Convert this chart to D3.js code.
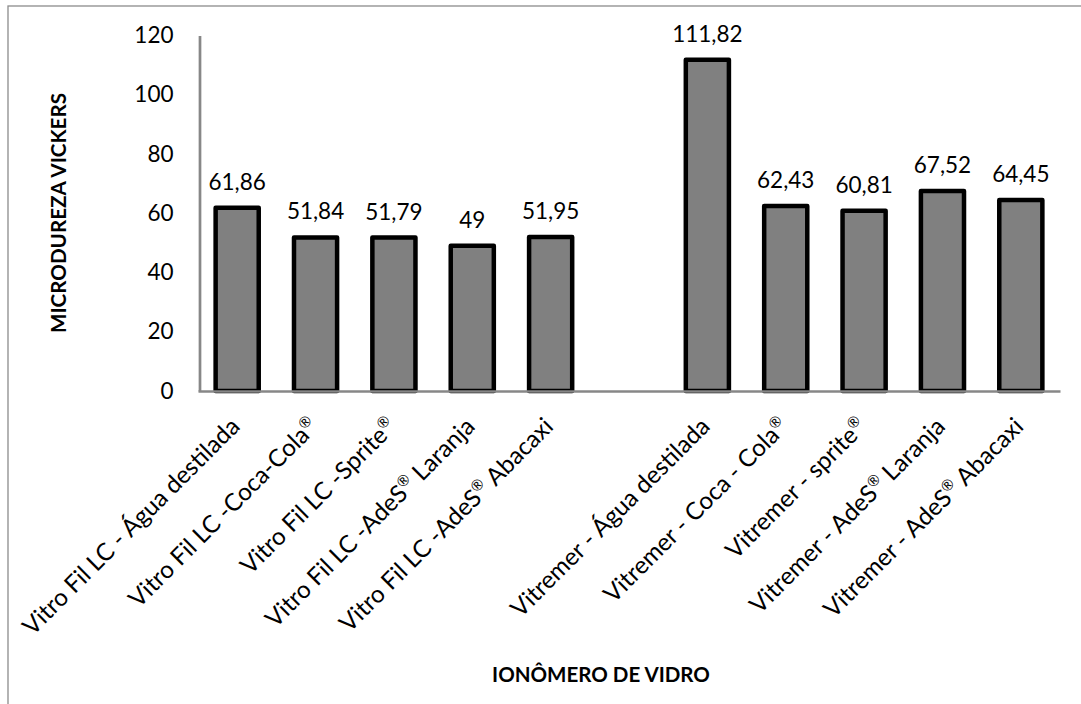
<!DOCTYPE html>
<html><head><meta charset="utf-8">
<script src="https://cdn.jsdelivr.net/npm/d3@7"></script>
<style>body{margin:0;background:#fff}svg{display:block}</style>
</head><body>
<svg id="c" width="1081" height="704"></svg>
<script>
const categories = [
  ["Vitro Fil LC - Água destilada"],
  ["Vitro Fil LC -Coca-Cola", "®"],
  ["Vitro Fil LC -Sprite", "®"],
  ["Vitro Fil LC -AdeS", "®", " Laranja"],
  ["Vitro Fil LC -AdeS", "®", " Abacaxi"],
  [""],
  ["Vitremer - Água destilada"],
  ["Vitremer - Coca - Cola", "®"],
  ["Vitremer - sprite", "®"],
  ["Vitremer - AdeS", "®", " Laranja"],
  ["Vitremer - AdeS", "®", " Abacaxi"]
];
const values = [61.86, 51.84, 51.79, 49, 51.95, null, 111.82, 62.43, 60.81, 67.52, 64.45];
const yTicks = [0, 20, 40, 60, 80, 100, 120];
const yTitle = "MICRODUREZA VICKERS";
const xTitle = "IONÔMERO DE VIDRO";

const svg = d3.select("#c");
const FONT = "Lato, 'Open Sans', sans-serif";
const axisColor = "#878787";

// frame
svg.append("rect").attr("x", 8).attr("y", 6).attr("width", 1200).attr("height", 900)
  .attr("fill", "none").attr("stroke", "#8c8c8c").attr("stroke-width", 1.3);

const x = d3.scaleBand().domain(d3.range(categories.length)).range([198, 1060]).padding(0);
const y = d3.scaleLinear().domain([0, 120]).range([391, 35.5]);
const barW = x.bandwidth() * 0.55;

// measure helper
function measure(text, size, weight) {
  const t = svg.append("text").attr("font-family", FONT).attr("font-size", size)
    .attr("font-weight", weight || "normal").text(text);
  const w = t.node().getComputedTextLength();
  t.remove();
  return w;
}

// y axis
const yAxis = svg.append("g").attr("transform", `translate(${x.range()[0] + 1.5},0)`)
  .call(d3.axisLeft(y).tickValues(yTicks).tickSize(0).tickPadding(26).tickFormat(d => String(d)));
yAxis.select(".domain").attr("stroke", axisColor).attr("stroke-width", 2.7);
yAxis.selectAll("text").attr("font-family", FONT).attr("font-size", 22.5).attr("fill", "#000");

// bars
svg.append("g").selectAll("rect").data(values.map((v, i) => ({v, i})).filter(d => d.v != null))
  .join("rect")
  .attr("x", d => x(d.i) + x.bandwidth() / 2 - barW / 2)
  .attr("y", d => y(d.v))
  .attr("width", barW)
  .attr("height", d => y(0) - y(d.v))
  .attr("fill", "#808080").attr("stroke", "#000").attr("stroke-width", 4.5)
  .attr("stroke-linejoin", "round");

// x axis line
const xAxis = svg.append("g").attr("transform", `translate(0,${y(0)})`)
  .call(d3.axisBottom(x).tickSize(0).tickFormat(""));
xAxis.select(".domain").attr("stroke", axisColor).attr("stroke-width", 2.7);

// value labels
svg.append("g").selectAll("text").data(values.map((v, i) => ({v, i})).filter(d => d.v != null))
  .join("text")
  .attr("x", d => x(d.i) + x.bandwidth() / 2)
  .attr("y", d => y(d.v) - 18)
  .attr("text-anchor", "middle").attr("font-family", FONT).attr("font-size", 22.5).attr("fill", "#000")
  .text(d => String(d.v).replace(".", ","));

// x category labels
const baseLen = measure(categories[0][0], 20);
const xfs = 20 * 295 / baseLen;
const lab = svg.append("g").selectAll("text").data(categories.map((c, i) => ({c, i})).filter(d => d.c[0] !== ""))
  .join("text")
  .attr("transform", d => `translate(${x(d.i) + x.bandwidth() / 2 + 4},428) rotate(-45)`)
  .attr("text-anchor", "end").attr("font-family", FONT).attr("font-size", xfs).attr("fill", "#000");
lab.each(function(d) {
  const t = d3.select(this);
  d.c.forEach((part, k) => {
    const sp = t.append("tspan").text(part);
    if (part === "®") {
      sp.attr("font-size", xfs * 0.62).attr("dy", -xfs * 0.38);
    } else if (k > 0 && d.c[k - 1] === "®") {
      sp.attr("dy", xfs * 0.38);
    }
  });
});

// titles
const ytfs = 20 * 240 / measure(yTitle, 20, "bold");
svg.append("text").attr("transform", "translate(66,213) rotate(-90)")
  .attr("text-anchor", "middle").attr("font-family", FONT).attr("font-weight", "bold")
  .attr("font-size", ytfs).attr("fill", "#000").text(yTitle);
const xtfs = 20 * 218 / measure(xTitle, 20, "bold");
svg.append("text").attr("x", 601).attr("y", 682)
  .attr("text-anchor", "middle").attr("font-family", FONT).attr("font-weight", "bold")
  .attr("font-size", xtfs).attr("fill", "#000").text(xTitle);
</script>
</body></html>
